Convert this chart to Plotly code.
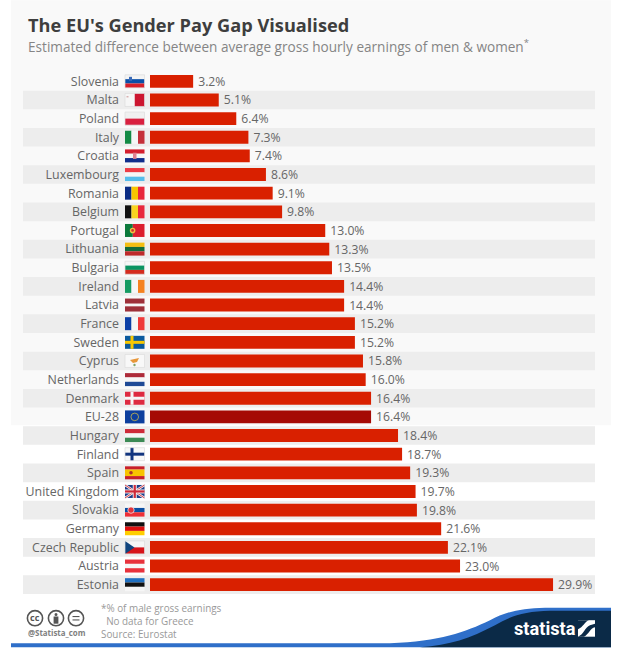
import plotly.graph_objects as go

countries = ["Slovenia","Malta","Poland","Italy","Croatia","Luxembourg","Romania","Belgium","Portugal","Lithuania",
             "Bulgaria","Ireland","Latvia","France","Sweden","Cyprus","Netherlands","Denmark","EU-28","Hungary",
             "Finland","Spain","United Kingdom","Slovakia","Germany","Czech Republic","Austria","Estonia"]
gap = [3.2,5.1,6.4,7.3,7.4,8.6,9.1,9.8,13.0,13.3,13.5,14.4,14.4,15.2,15.2,15.8,16.0,16.4,16.4,18.4,18.7,19.3,19.7,19.8,21.6,22.1,23.0,29.9]
RED = "#D92000"
DARK = "#A50A05"
bar_colors = [DARK if c == "EU-28" else RED for c in countries]

W, H = 622, 654
L, T, B = 150, 71.7, 593.8
PPU = 13.48
PITCH = (B - T) / len(countries)

def px(x): return (x - L) / (W - L)
def py(y): return 1 - (y - T) / (B - T)

shapes = []
def rect(x0, y0, x1, y1, color, layer="below", line=None):
    shapes.append(dict(type="rect", xref="paper", yref="paper", x0=px(x0), x1=px(x1), y0=py(y0), y1=py(y1),
                       fillcolor=color, layer=layer, line=dict(width=0 if line is None else 0.7, color=line or color)))
def circle(cx, cy, r, fill, line=None, lw=0):
    shapes.append(dict(type="circle", xref="paper", yref="paper", x0=px(cx-r), x1=px(cx+r), y0=py(cy-r), y1=py(cy+r),
                       fillcolor=fill, layer="below", line=dict(width=lw, color=line or "rgba(0,0,0,0)")))
def path(points, fill, lw=0, line=None):
    parts = []
    for seg in points:
        cmd, *coords = seg
        s = cmd
        for i in range(0, len(coords), 2):
            s += f" {px(coords[i]):.5f},{py(coords[i+1]):.5f}"
        parts.append(s)
    shapes.append(dict(type="path", xref="paper", yref="paper", path=" ".join(parts) + (" Z" if fill else ""),
                       fillcolor=fill or "rgba(0,0,0,0)", layer="below", line=dict(width=lw, color=line or "rgba(0,0,0,0)")))

# Page panel and row stripes
rect(11, 0, 611, 425, "#F9F9F9")
for i in range(1, len(countries), 2):
    rect(23, T + i*PITCH, 595, T + (i+1)*PITCH, "#EDEDED")

YE = "#F7C600"
flag_stripes = {
    "Slovenia": ("h", [(1,"#F4F4F4"),(1,"#0A4FA8"),(1,"#D9202A")]),
    "Malta": ("v", [(1,"#F6F6F6"),(1,"#CC1630")]),
    "Poland": ("h", [(1,"#F0F0F0"),(1,"#D9203F")]),
    "Italy": ("v", [(1,"#138A45"),(1,"#F6F6F6"),(1,"#C5303A")]),
    "Croatia": ("h", [(1,"#D51F2E"),(1,"#F6F6F6"),(1,"#102E8C")]),
    "Luxembourg": ("h", [(1,"#EE3B44"),(1,"#F6F6F6"),(1,"#55BDEB")]),
    "Romania": ("v", [(1,"#0B2C84"),(1,YE),(1,"#E8283C")]),
    "Belgium": ("v", [(1,"#111111"),(1,"#F8D320"),(1,"#E8283C")]),
    "Portugal": ("v", [(2,"#0C7A3C"),(3,"#DC1F2E")]),
    "Lithuania": ("h", [(1,"#F5BE12"),(1,"#146B3A"),(1,"#BE2A2A")]),
    "Bulgaria": ("h", [(1,"#F6F6F6"),(1,"#0B9462"),(1,"#D52B1E")]),
    "Ireland": ("v", [(1,"#169B62"),(1,"#F6F6F6"),(1,"#F58220")]),
    "Latvia": ("h", [(2,"#9E3039"),(1,"#F6F6F6"),(2,"#9E3039")]),
    "France": ("v", [(1,"#0C3FA6"),(1,"#F6F6F6"),(1,"#EF3A3A")]),
    "Sweden": ("h", [(1,"#0B5A9E")]),
    "Cyprus": ("h", [(1,"#F8F8F8")]),
    "Netherlands": ("h", [(1,"#AE2B3A"),(1,"#F6F6F6"),(1,"#1F4A96")]),
    "Denmark": ("h", [(1,"#DE2A40")]),
    "EU-28": ("h", [(1,"#0D3F9E")]),
    "Hungary": ("h", [(1,"#CE2A39"),(1,"#F6F6F6"),(1,"#3B8A55")]),
    "Finland": ("h", [(1,"#F8F8F8")]),
    "Spain": ("h", [(1,"#C8202A"),(2,"#F8C300"),(1,"#C8202A")]),
    "United Kingdom": ("h", [(1,"#1F3C88")]),
    "Slovakia": ("h", [(1,"#F6F6F6"),(1,"#0B4EA2"),(1,"#EE2E36")]),
    "Germany": ("h", [(1,"#111111"),(1,"#DD1010"),(1,"#FFCE00")]),
    "Czech Republic": ("h", [(1,"#F6F6F6"),(1,"#D7141A")]),
    "Austria": ("h", [(1,"#E8323C"),(1,"#F6F6F6"),(1,"#E8323C")]),
    "Estonia": ("h", [(1,"#1F6FC0"),(1,"#111111"),(1,"#F6F6F6")]),
}
FX0, FX1, FH = 125, 144.5, 13
for i, c in enumerate(countries):
    cy = T + (i + 0.5) * PITCH
    y0, y1 = cy - FH/2, cy + FH/2
    kind, stripes = flag_stripes[c]
    tot = sum(s[0] for s in stripes)
    pos = 0
    for w, col in stripes:
        if kind == "h":
            rect(FX0, y0 + FH*pos/tot, FX1, y0 + FH*(pos+w)/tot, col)
        else:
            rect(FX0 + (FX1-FX0)*pos/tot, y0, FX0 + (FX1-FX0)*(pos+w)/tot, y1, col)
        pos += w
    vx = FX0 + 7
    if c == "Sweden":
        rect(vx-1.5, y0, vx+1.5, y1, "#F8C800"); rect(FX0, cy-1.5, FX1, cy+1.5, "#F8C800")
    elif c == "Denmark":
        rect(vx-1.5, y0, vx+1.5, y1, "#F6F6F6"); rect(FX0, cy-1.5, FX1, cy+1.5, "#F6F6F6")
    elif c == "Finland":
        rect(vx-1.5, y0, vx+1.5, y1, "#12357F"); rect(FX0, cy-1.5, FX1, cy+1.5, "#12357F")
    elif c == "Cyprus":
        path([("M", FX0+5, cy-1), ("L", FX0+14, cy-3), ("L", FX0+12, cy+1), ("L", FX0+8, cy+2)], "#E8973A")
        circle(FX0+9.5, cy+4, 1.2, "#7FA56A")
    elif c == "EU-28":
        circle((FX0+FX1)/2, cy, 3.8, "rgba(0,0,0,0)", "#C9B84A", 0.8)
    elif c == "Portugal":
        circle(FX0+7.6, cy, 2.8, "#F0C040")
        circle(FX0+7.6, cy, 1.4, "#D0302A")
    elif c == "Czech Republic":
        path([("M", FX0, y0), ("L", FX0+9.5, cy), ("L", FX0, y1)], "#11457E")
    elif c == "United Kingdom":
        for a, b in [((FX0,y0),(FX1,y1)),((FX0,y1),(FX1,y0))]:
            path([("M",a[0],a[1]),("L",b[0],b[1])], None, 2.4, "#F2F2F2")
            path([("M",a[0],a[1]),("L",b[0],b[1])], None, 0.9, "#CF2A3A")
        rect((FX0+FX1)/2-2, y0, (FX0+FX1)/2+2, y1, "#F2F2F2")
        rect(FX0, cy-2, FX1, cy+2, "#F2F2F2")
        rect((FX0+FX1)/2-1.1, y0, (FX0+FX1)/2+1.1, y1, "#CF2A3A")
        rect(FX0, cy-1.1, FX1, cy+1.1, "#CF2A3A")
    elif c == "Slovakia":
        circle(FX0+6, cy, 3.2, "#E2333C", "#F6F6F6", 0.7)
    elif c == "Slovenia":
        rect(FX0+4, y0+2, FX0+7, y0+6, "#3A6AB8")
    elif c == "Croatia":
        rect(FX0+8, cy-3.2, FX0+11.5, cy+3, "#E08090")
    elif c == "Spain":
        circle(FX0+6, cy, 1.8, "#B0302A")
    elif c == "Malta":
        rect(FX0+1.5, y0+2.5, FX0+3.5, y0+4, "#D8B0B0")
    if c in ("Poland","Malta","Bulgaria","Czech Republic","Cyprus","Slovenia","Finland"):
        shapes.append(dict(type="rect", xref="paper", yref="paper", x0=px(FX0), x1=px(FX1), y0=py(y0), y1=py(y1),
                           layer="below", fillcolor="rgba(0,0,0,0)", line=dict(width=0.7, color="#DDDDDD")))

# Footer wave
path([("M",11,643),("L",390,643),("C",440,641,465,632,490,620),("C",505,612,520,608,545,607.5),
      ("L",611,607.5),("L",611,647),("L",11,647)], "#2F6FC9")
path([("M",420,647),("C",450,645,470,638,495,625),("C",510,616,525,611,550,610.5),
      ("L",611,610.5),("L",611,647)], "#0B2A47")
# Statista square mark
rect(578, 620, 595, 636.5, "#FFFFFF")
path([("M",578,636.5),("C",584,634,585,627,590,625),("L",595,623.5),("L",595,627),("C",590,628,589,634,584,636.5)], "#0B2A47")
path([("M",578,620),("L",589,620),("C",585,621,583,627,578,629)], "#0B2A47")

# CC icons
for cx in (35, 56, 76):
    circle(cx, 618, 7.6, "#FFFFFF", "#555555", 1.6)
circle(56, 614.2, 1.5, "#555555")
rect(53.6, 616.3, 58.4, 623.5, "#555555")
rect(72.5, 615.8, 79.5, 616.9, "#555555")
rect(72.5, 619.2, 79.5, 620.3, "#555555")

FONT = "Open Sans"
def note(x, y, text, size, color, bold=False, anchor="left", family=FONT):
    return dict(xref="paper", yref="paper", x=px(x), y=py(y), text=f"<b>{text}</b>" if bold else text,
                showarrow=False, xanchor=anchor, yanchor="middle", align="left",
                font=dict(family=family, size=size, color=color))

annotations = [
    note(26, 25, "The EU's Gender Pay Gap Visualised", 18.2, "#3E3E3E", True),
    note(26, 46, "Estimated difference between average gross hourly earnings of men &amp; women<sup>*</sup>", 13.6, "#858585"),
    note(99, 614.5, "*% of male gross earnings<br>\u00a0\u00a0No data for Greece", 9.9, "#999999"),
    note(99, 633.5, "Source: Eurostat", 9.9, "#999999"),
    note(26, 633, "@Statista_com", 7.9, "#808080", True),
    note(35, 617.5, "cc", 9, "#555555", True, "center"),
    note(512, 628, "statista", 18.2, "#FFFFFF", True, "left", "Roboto"),
]

fig = go.Figure(go.Bar(
    x=gap, y=countries, orientation="h", marker=dict(color=bar_colors, line=dict(width=0)),
    text=[f"\u2009{v:.1f}%" for v in gap], textposition="outside", constraintext="none", cliponaxis=False,
    textfont=dict(family=FONT, size=12.2, color="#666666"), hoverinfo="skip",
))
fig.update_layout(
    width=W, height=H, margin=dict(l=L, r=0, t=T, b=H-B, pad=0, autoexpand=False),
    paper_bgcolor="#FFFFFF", plot_bgcolor="rgba(0,0,0,0)", bargap=0.31, showlegend=False,
    shapes=shapes, annotations=annotations, font=dict(family=FONT),
    xaxis=dict(range=[0, (W-L)/PPU], visible=False, fixedrange=True),
    yaxis=dict(type="category", autorange="reversed", showgrid=False, showline=False, zeroline=False,
               ticks="", ticklabelstandoff=30, tickfont=dict(family=FONT, size=12.4, color="#666666"),
               fixedrange=True, automargin=False),
)
fig.write_html("out.html", config=dict(displayModeBar=False),
               post_script="document.body.style.margin='0';document.body.style.overflow='hidden';")
